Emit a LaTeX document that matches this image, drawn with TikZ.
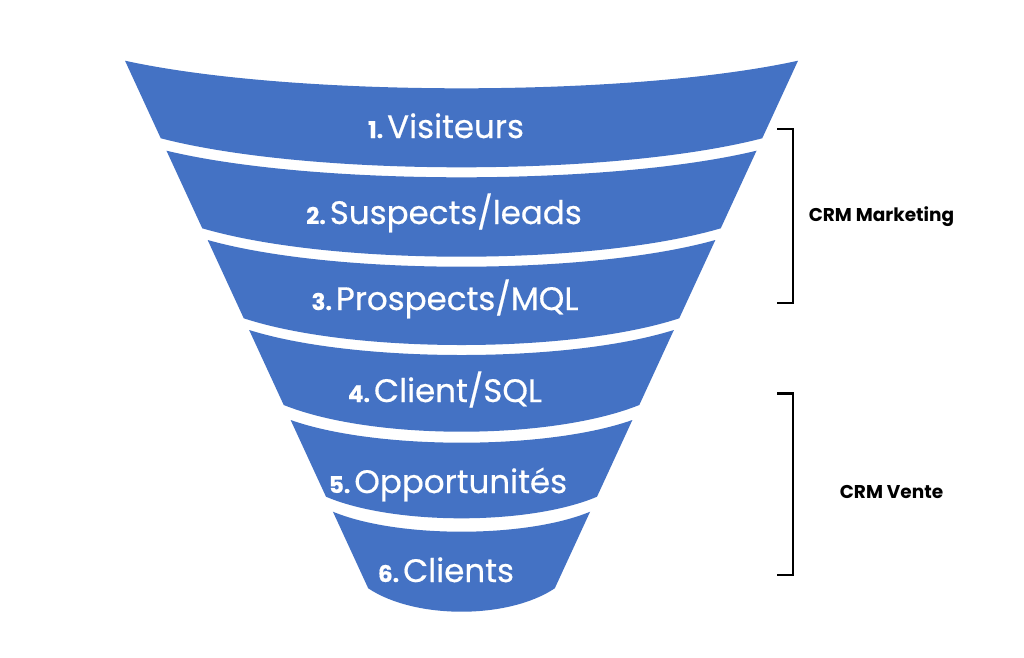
\documentclass[tikz,border=0pt]{standalone}
\usepackage{fontspec}
\setmainfont{Poppins}
\newfontfamily\bandfont{Poppins}[FakeBold=0.5]
\definecolor{funnelblue}{HTML}{4472C4}
\newcommand\stepnum[1]{{\fontsize{23}{23}\selectfont\bfseries #1}\hspace{4pt}}
\begin{document}
\begin{tikzpicture}[x=1pt,y=-1pt,
  bandtext/.style={text=white,font=\bandfont\fontsize{32.5}{32.5}\selectfont,anchor=base,inner sep=0pt},
  crmlabel/.style={text=black,font=\fontsize{18.5}{18.5}\selectfont\bfseries,anchor=center,inner sep=0pt},
  bracket/.style={draw=black,line width=2.4pt}]
\useasboundingbox (0,0) rectangle (1024,657);
\fill[white] (0,0) rectangle (1024,657);
\foreach \yt/\yb/\dt/\db in {60.7/138.3/27.6/29,150.7/228.3/26.6/28.4,240/318.3/26.7/26.7,330/405/25/26.7,420/496.7/22.7/21.6,511.7/588.3/20/23.4}{
  \pgfmathsetmacro\lt{125+0.461*(\yt-60.7)}
  \pgfmathsetmacro\rt{923-\lt}
  \pgfmathsetmacro\lb{125+0.461*(\yb-60.7)}
  \pgfmathsetmacro\rb{923-\lb}
  \pgfmathsetmacro\wt{0.25*(\rt-\lt)}
  \pgfmathsetmacro\wb{0.25*(\rb-\lb)}
  \pgfmathsetmacro\ct{\yt+4*\dt/3}
  \pgfmathsetmacro\cb{\yb+4*\db/3}
  \fill[funnelblue] (\lt,\yt) .. controls (\lt+\wt,\ct) and (\rt-\wt,\ct) .. (\rt,\yt)
     -- (\rb,\yb) .. controls (\rb-\wb,\cb) and (\lb+\wb,\cb) .. (\lb,\yb) -- cycle;
}
\node[bandtext] (t1) at (446,138) {\stepnum{1.}Visiteurs};
\node[bandtext] (t2) at (444,224) {\stepnum{2.}Suspects/leads};
\node[bandtext] (t3) at (445,310) {\stepnum{3.}Prospects/MQL};
\node[bandtext] (t4) at (445,402) {\stepnum{4.}Client/SQL};
\node[bandtext] (t5) at (448,493) {\stepnum{5.}Opportunités};
\node[bandtext] (t6) at (446,582) {\stepnum{6.}Clients};
\coordinate (m1) at (777,129);
\coordinate (m2) at (793,129);
\coordinate (m3) at (793,303);
\coordinate (m4) at (777,303);
\draw[bracket] (m1) -- (m2) -- (m3) -- (m4);
\coordinate (v1) at (777,393.5);
\coordinate (v2) at (793,393.5);
\coordinate (v3) at (793,575);
\coordinate (v4) at (777,575);
\draw[bracket] (v1) -- (v2) -- (v3) -- (v4);
\node[crmlabel] (crmm) at (881.5,217) {CRM Marketing};
\node[crmlabel] (crmv) at (891.5,492) {CRM Vente};
\end{tikzpicture}
\end{document}
